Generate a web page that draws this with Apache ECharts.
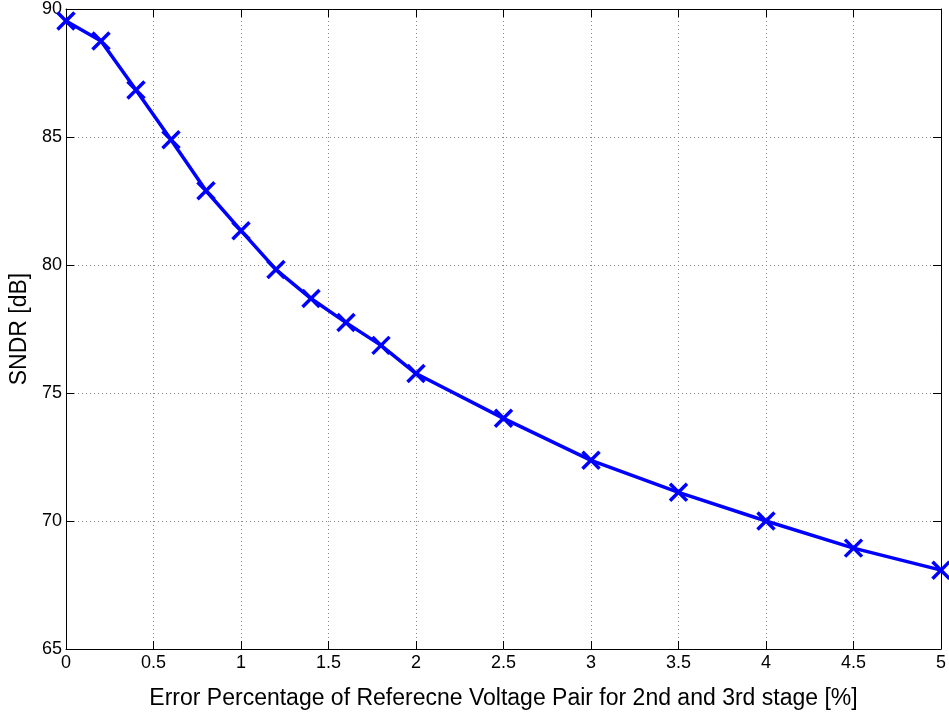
<!DOCTYPE html>
<html>
<head>
<meta charset="utf-8">
<script src="https://cdn.jsdelivr.net/npm/echarts@6/dist/echarts.min.js"></script>
<style>html,body{margin:0;padding:0;background:#fff;overflow:hidden}#c{width:949px;height:715px}</style>
</head>
<body>
<div id="c"></div>
<script>
var xValues = [0, 0.2, 0.4, 0.6, 0.8, 1.0, 1.2, 1.4, 1.6, 1.8, 2.0, 2.5, 3.0, 3.5, 4.0, 4.5, 5.0];
var sndrValues = [89.53, 88.75, 86.84, 84.89, 82.90, 81.34, 79.82, 78.69, 77.75, 76.86, 75.76, 74.01, 72.37, 71.12, 70.0, 68.94, 68.08];
var xTitle = 'Error Percentage of Referecne Voltage Pair for 2nd and 3rd stage [%]';
var yTitle = 'SNDR [dB]';

var font = 'Liberation Sans, Arial, Helvetica, sans-serif';
var chart = echarts.init(document.getElementById('c'), null, {renderer: 'canvas'});
var common = {
  axisLine: {show: true, onZero: false, lineStyle: {color: '#000', width: 1}},
  axisTick: {show: true, inside: true, length: 8, lineStyle: {color: '#000'}},
  minorTick: {show: false}
};
chart.setOption({
  animation: false,
  backgroundColor: '#fff',
  grid: {left: 66, right: 4, top: 9, bottom: 66, containLabel: false},
  xAxis: [
    Object.assign({
      type: 'value', min: 0, max: 5, interval: 0.5, position: 'bottom',
      name: xTitle, nameLocation: 'middle', nameGap: 38,
      nameTextStyle: {color: '#000', fontSize: 23, fontFamily: font},
      axisLabel: {color: '#000', fontSize: 18, fontFamily: font, margin: 5,
        formatter: function (v) { return String(Math.round(v * 10) / 10); }},
      splitLine: {show: true, lineStyle: {color: '#888', type: [1, 3], width: 1}}
    }, common),
    Object.assign({
      type: 'value', min: 0, max: 5, interval: 0.5, position: 'top',
      axisLabel: {show: false}, splitLine: {show: false}
    }, common)
  ],
  yAxis: [
    Object.assign({
      type: 'value', min: 65, max: 90, interval: 5, position: 'left',
      name: yTitle, nameLocation: 'middle', nameGap: 25, nameRotate: 90,
      nameTextStyle: {color: '#000', fontSize: 23, fontFamily: font},
      axisLabel: {color: '#000', fontSize: 18, fontFamily: font, margin: 4},
      splitLine: {show: true, lineStyle: {color: '#888', type: [1, 3], width: 1}}
    }, common),
    Object.assign({
      type: 'value', min: 65, max: 90, interval: 5, position: 'right',
      axisLabel: {show: false}, splitLine: {show: false}
    }, common)
  ],
  series: [{
    type: 'line',
    data: xValues.map(function (x, i) { return [x, sndrValues[i]]; }),
    lineStyle: {color: '#0000ff', width: 3.5},
    symbol: 'path://M0,0L10,10M10,0L0,10',
    symbolSize: 17,
    itemStyle: {color: '#0000ff', borderColor: '#0000ff', borderWidth: 3.5},
    showSymbol: true,
    clip: false
  }]
});
</script>
</body>
</html>
